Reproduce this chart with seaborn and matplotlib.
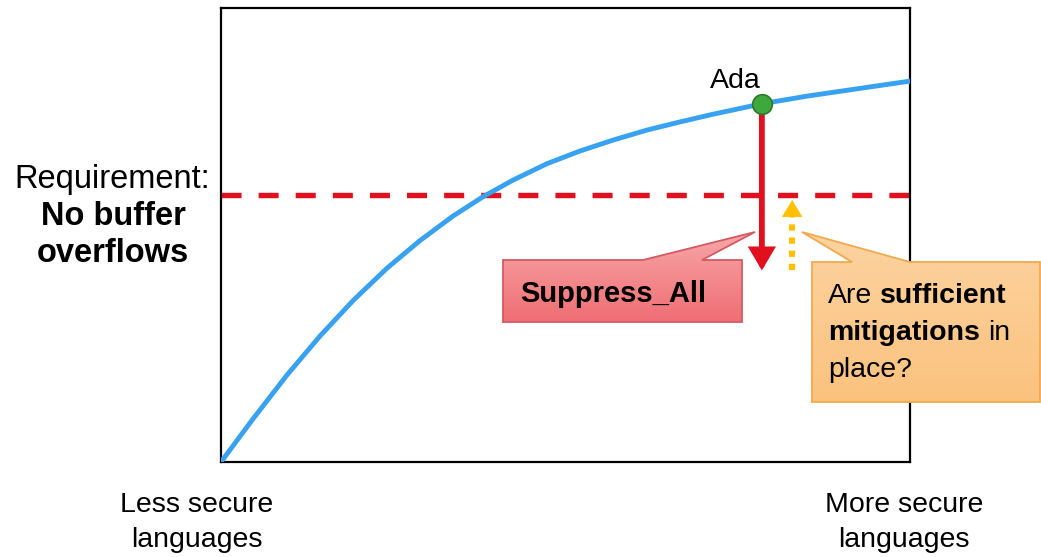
import numpy as np
import pandas as pd
import matplotlib
matplotlib.use("Agg")
import matplotlib.pyplot as plt
from matplotlib.patches import Polygon, FancyArrowPatch, ArrowStyle
from matplotlib.colors import LinearSegmentedColormap
import seaborn as sns

# Protection against buffer overflows along the language spectrum
# (x: 0 = less secure languages, 100 = more secure languages)
security_x = [0, 4.6, 9.6, 14.4, 19.2, 24.1, 28.9, 33.7, 38.0, 42.4, 47.3,
              52.1, 56.9, 61.8, 66.6, 71.4, 78.5, 85.1, 100]
protection_y = [0, 9.4, 19.2, 27.8, 35.6, 42.7, 48.8, 54.2, 58.4, 62.1, 65.7,
                68.5, 70.9, 73.1, 74.9, 76.6, 78.9, 80.6, 83.9]

requirement_level = 58.8
ada_x = [78.5]
ada_y = [78.9]
ada_label = ["Ada"]
suppressed_level = 42.2       # protection left after Suppress_All
mitigation_x = 82.9
mitigation_top = 57.7

BLUE = "#38A2F0"
RED = "#E0101E"
GOLD = "#FFC000"

sns.set_theme(style="white")
plt.rcParams["font.family"] = ["Liberation Sans", "DejaVu Sans"]
plt.rcParams["text.color"] = "black"

W, H = 1041, 557
fig = plt.figure(figsize=(W / 100, H / 100), dpi=100)
fig.patch.set_facecolor("white")
ax = fig.add_axes([221 / W, 1 - 462 / H, 689 / W, 454 / H])
ax.set_xlim(0, 100)
ax.set_ylim(0, 100)
ax.set_xticks([])
ax.set_yticks([])
for s in ax.spines.values():
    s.set_visible(True)
    s.set_color("black")
    s.set_linewidth(1.6)

curve = pd.DataFrame({"security": security_x, "protection": protection_y})
sns.lineplot(data=curve, x="security", y="protection", ax=ax, color=BLUE,
             linewidth=3.5, solid_capstyle="round", solid_joinstyle="round",
             zorder=3)
ax.set_xlabel("")
ax.set_ylabel("")

# Requirement threshold
ax.axhline(requirement_level, color=RED, linewidth=3.9, dashes=(3.7, 3.15),
           dash_capstyle="butt", zorder=2)

# Suppress_All drop (solid red arrow from Ada down)
red_arrow = FancyArrowPatch((ada_x[0], ada_y[0]), (ada_x[0], suppressed_level),
                            arrowstyle=ArrowStyle("-|>", head_length=11, head_width=6.5),
                            color=RED, linewidth=4.2, shrinkA=0, shrinkB=0,
                            mutation_scale=1, zorder=4, joinstyle="miter")
ax.add_patch(red_arrow)

# Mitigations (dotted gold arrow up)
head_len = 3.3
ax.plot([mitigation_x, mitigation_x], [suppressed_level, mitigation_top - head_len],
        color=GOLD, linewidth=4.5, dashes=(1.0, 1.1), dash_capstyle="butt", zorder=4)
gold_head = FancyArrowPatch((mitigation_x, mitigation_top - head_len - 0.2),
                            (mitigation_x, mitigation_top),
                            arrowstyle=ArrowStyle("-|>", head_length=11.5, head_width=7),
                            color=GOLD, linewidth=0.5, shrinkA=0, shrinkB=0,
                            mutation_scale=1, zorder=4)
ax.add_patch(gold_head)

# Ada point
pts = pd.DataFrame({"x": ada_x, "y": ada_y, "lang": ada_label})
sns.scatterplot(data=pts, x="x", y="y", ax=ax, s=200, color="#3FA83C",
                edgecolor="#2B7A2B", linewidth=1.2, zorder=6, legend=False)
ax.set_xlabel("")
ax.set_ylabel("")

# Overlay in pixel space for labels and callouts
ov = fig.add_axes([0, 0, 1, 1], zorder=10)
ov.set_xlim(0, W)
ov.set_ylim(H, 0)
ov.axis("off")
ov.patch.set_alpha(0)

FS = 20.5


def callout(points, top_color, bottom_color, edge_color):
    poly = Polygon(points, closed=True, facecolor="none", edgecolor=edge_color,
                   linewidth=1.3, zorder=3)
    ov.add_patch(poly)
    xs = [p[0] for p in points]
    ys = [p[1] for p in points]
    cmap = LinearSegmentedColormap.from_list("grad", [top_color, bottom_color])
    grad = np.linspace(0, 1, 256).reshape(-1, 1)
    img = ov.imshow(grad, cmap=cmap, aspect="auto",
                    extent=(min(xs), max(xs), max(ys), min(ys)),
                    origin="upper", zorder=2, interpolation="bilinear")
    fill = Polygon(points, closed=True, facecolor="none", edgecolor="none",
                   transform=ov.transData)
    ov.add_patch(fill)
    img.set_clip_path(fill)
    ov.set_xlim(0, W)
    ov.set_ylim(H, 0)


callout([(503, 260), (643, 260), (755, 232), (702, 260), (742, 260),
         (742, 322), (503, 322)], "#F7A7A9", "#EF6E73", "#D45A62")
ov.text(613, 302, "Suppress_All", fontsize=FS + 0.5, fontweight="bold",
        ha="center", va="baseline", color="black", zorder=5)

callout([(812, 262), (852, 262), (802, 232), (910, 262), (1040, 262),
         (1040, 402), (812, 402)], "#FDD3A0", "#FBC27E", "#F2A94E")

space_pt = 0.278 * FS
t1 = ov.text(828, 303, "Are", fontsize=FS, ha="left", va="baseline", zorder=5)
ov.annotate("sufficient", xy=(1, 0), xycoords=t1, xytext=(space_pt, 0),
            textcoords="offset points", fontsize=FS, fontweight="bold",
            ha="left", va="bottom", zorder=5)
t2 = ov.text(828, 340, "mitigations", fontsize=FS, fontweight="bold",
             ha="left", va="baseline", zorder=5)
ov.annotate("in", xy=(1, 0), xycoords=t2, xytext=(space_pt, 0),
            textcoords="offset points", fontsize=FS,
            ha="left", va="bottom", zorder=5)
ov.text(828, 377, "place?", fontsize=FS, ha="left", va="baseline", zorder=5)

# Ada label
ov.text(735, 88, ada_label[0], fontsize=FS, ha="center", va="baseline")

# Requirement label
LFS = 23.5
ov.text(112, 188, "Requirement:", fontsize=LFS, ha="center", va="baseline")
ov.text(113, 225, "No buffer", fontsize=LFS, fontweight="bold", ha="center", va="baseline")
ov.text(113, 262, "overflows", fontsize=LFS, fontweight="bold", ha="center", va="baseline")

# Axis end labels
ov.text(197, 512, "Less secure", fontsize=FS, ha="center", va="baseline")
ov.text(197, 547, "languages", fontsize=FS, ha="center", va="baseline")
ov.text(904, 512, "More secure", fontsize=FS, ha="center", va="baseline")
ov.text(904, 547, "languages", fontsize=FS, ha="center", va="baseline")

fig.savefig("out.png", dpi=100)
